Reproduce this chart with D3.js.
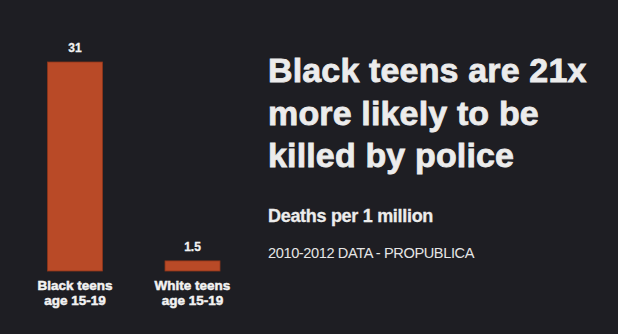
<!DOCTYPE html>
<html>
<head>
<meta charset="utf-8">
<script src="https://cdn.jsdelivr.net/npm/d3@7"></script>
<style>
  html, body { margin: 0; padding: 0; background: #1e1e23; }
  svg { display: block; }
  text { font-family: "Liberation Sans", Arial, sans-serif; }
</style>
</head>
<body>
<svg id="chart"></svg>
<script>
// data
const categories = ["Black teens|age 15-19", "White teens|age 15-19"];
const values = [31, 1.5];
const valueLabels = ["31", "1.5"];
const titleLines = ["Black teens are 21x", "more likely to be", "killed by police"];
const subtitle = "Deaths per 1 million";
const source = "2010-2012 DATA - PROPUBLICA";

const width = 618, height = 334;
const svg = d3.select("#chart")
    .attr("width", width)
    .attr("height", height);

svg.append("rect")
    .attr("width", width)
    .attr("height", height)
    .attr("fill", "#1e1e23");

const xscale = d3.scaleBand()
    .domain(categories)
    .range([24, 243.5])
    .paddingInner(0.532)
    .paddingOuter(0.2);

const yscale = d3.scaleLinear()
    .domain([0, 31])
    .range([271, 62]);

const chart = svg.append("g");

// bars
chart.selectAll("rect.bar")
    .data(values)
    .join("rect")
    .attr("class", "bar")
    .attr("x", (d, i) => xscale(categories[i]))
    .attr("y", d => yscale(d))
    .attr("width", xscale.bandwidth())
    .attr("height", d => yscale(0) - yscale(d))
    .attr("fill", "#b94a27")
    .attr("stroke", "#8e3519")
    .attr("stroke-width", 0.8);

// value labels
chart.selectAll("text.val")
    .data(values)
    .join("text")
    .attr("class", "val")
    .attr("x", (d, i) => xscale(categories[i]) + xscale.bandwidth() / 2)
    .attr("y", d => yscale(d) - 10)
    .attr("text-anchor", "middle")
    .attr("fill", "#f2f2f2")
    .attr("stroke", "#f2f2f2")
    .attr("stroke-width", 0.3)
    .style("font-size", "12px")
    .style("font-weight", "bold")
    .text((d, i) => valueLabels[i]);

// category labels, one text per line
const catLines = categories.flatMap(c => c.split("|").map((t, j) => ({cat: c, t: t, j: j})));
chart.selectAll("text.cat")
    .data(catLines)
    .join("text")
    .attr("class", "cat")
    .attr("x", d => xscale(d.cat) + xscale.bandwidth() / 2)
    .attr("y", d => 289.5 + d.j * 15.2)
    .attr("text-anchor", "middle")
    .attr("fill", "#f2f2f2")
    .attr("stroke", "#f2f2f2")
    .attr("stroke-width", 0.5)
    .style("font-size", "13.5px")
    .style("font-weight", "bold")
    .text(d => d.t);

// title
svg.selectAll("text.title")
    .data(titleLines)
    .join("text")
    .attr("class", "title")
    .attr("x", 268)
    .attr("y", (d, i) => 82 + i * 42.5)
    .attr("fill", "#ececec")
    .attr("stroke", "#ececec")
    .attr("stroke-width", 0.8)
    .style("font-size", "34px")
    .style("font-weight", "bold")
    .style("letter-spacing", "0.15px")
    .text(d => d);

svg.append("text")
    .attr("x", 268)
    .attr("y", 222)
    .attr("fill", "#ececec")
    .attr("stroke", "#ececec")
    .attr("stroke-width", 0.3)
    .style("font-size", "18px")
    .style("font-weight", "bold")
    .style("letter-spacing", "-0.3px")
    .text(subtitle);

svg.append("text")
    .attr("x", 268)
    .attr("y", 258)
    .attr("fill", "#e6e6e6")
    .style("font-size", "14.6px")
    .style("letter-spacing", "-0.4px")
    .text(source);
</script>
</body>
</html>
